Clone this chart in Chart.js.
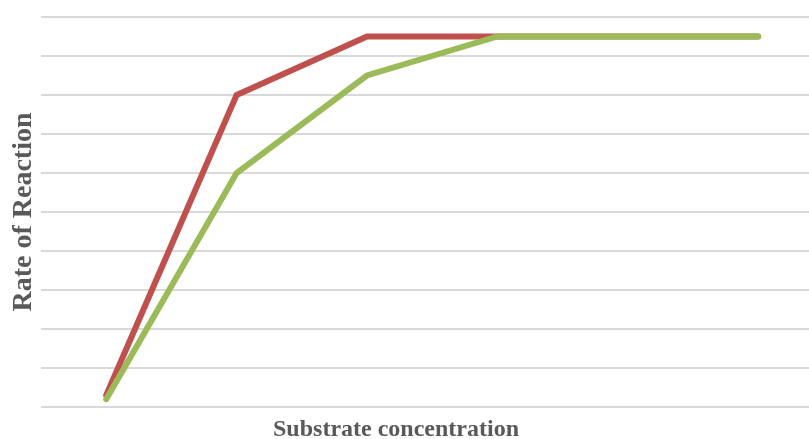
<!DOCTYPE html>
<html>
<head>
<meta charset="utf-8">
<script src="https://cdn.jsdelivr.net/npm/chart.js@4.4.0/dist/chart.umd.min.js"></script>
<style>
	html, body { margin: 0; padding: 0; background: #fff; overflow: hidden; }
	/* canvas pushed 17px left so the bottom title lands where the original has it */
	#wrap { position: relative; width: 826px; height: 445px; margin-left: -17px; }
</style>
</head>
<body>
<div id="wrap"><canvas id="rateChart"></canvas></div>
<script>
// chart data
const categories = ['1', '2', '3', '4', '5', '6'];
const redValues = [0.3, 8, 9.5, 9.5, 9.5, 9.5];
const greenValues = [0.2, 6, 8.5, 9.5, 9.5, 9.5];
const yTicks = [0, 1, 2, 3, 4, 5, 6, 7, 8, 9, 10];

const toPoints = (values) => values.map((v, i) => ({ x: i, y: v }));

const ctx = document.getElementById('rateChart').getContext('2d');
const chart = new Chart(ctx, {
	type: 'line',
	data: {
		labels: categories,
		datasets: [
			{
				label: 'Series 1',
				data: toPoints(redValues),
				borderColor: '#C0504D',
				borderWidth: 6,
				pointRadius: 0,
				borderCapStyle: 'round',
				borderJoinStyle: 'miter',
				tension: 0,
				order: 1,
			},
			{
				label: 'Series 2',
				data: toPoints(greenValues),
				borderColor: '#9BBB59',
				borderWidth: 6,
				pointRadius: 0,
				borderCapStyle: 'round',
				borderJoinStyle: 'miter',
				tension: 0,
				order: 0, // green sits on top of red
			},
		],
	},
	options: {
		responsive: true,
		maintainAspectRatio: false,
		animation: false,
		layout: {
			padding: { top: 17, left: 0, right: 0, bottom: 0 },
		},
		plugins: {
			legend: { display: false },
			tooltip: { enabled: false },
			title: {
				display: true,
				position: 'bottom',
				text: 'Substrate concentration',
				color: '#595959',
				font: { family: '"Liberation Serif", "Times New Roman", serif', size: 24, weight: 'bold' },
				padding: { top: 8.8, bottom: 0.4 },
			},
		},
		scales: {
			x: {
				type: 'linear',
				min: -0.5,
				max: 5.39,
				display: false,
			},
			y: {
				min: yTicks[0],
				max: yTicks[yTicks.length - 1],
				afterBuildTicks: (scale) => {
					scale.ticks = yTicks.map((v) => ({ value: v }));
				},
				ticks: { display: false },
				border: { display: false },
				grid: {
					color: '#D9D9D9',
					lineWidth: 2,
					drawTicks: false,
				},
				title: {
					display: true,
					text: 'Rate of Reaction',
					color: '#595959',
					font: { family: '"Liberation Serif", "Times New Roman", serif', size: 28, weight: 'bold' },
					padding: { top: 24.1, bottom: 0.3 },
				},
			},
		},
	},
});
</script>
</body>
</html>
